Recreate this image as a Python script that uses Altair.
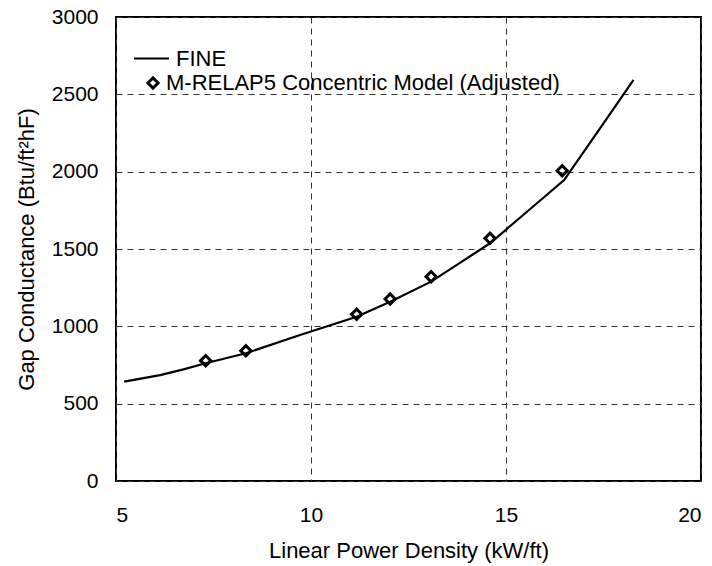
import altair as alt
import pandas as pd

# FINE curve
fine_x = [5.21, 6.13, 6.73, 7.30, 8.33, 9.72, 11.17, 12.03, 13.08, 14.59, 15.44, 16.49, 17.38, 18.27]
fine_y = [642, 685, 722, 761, 826, 944, 1062, 1159, 1289, 1537, 1720, 1946, 2269, 2593]

# M-RELAP5 concentric model (adjusted) points
model_x = [7.30, 8.33, 11.17, 12.03, 13.08, 14.59, 16.44]
model_y = [778, 842, 1078, 1177, 1321, 1569, 2006]

line_name = "FINE"
point_name = "M-RELAP5 Concentric Model (Adjusted)"

x_ticks = [5, 10, 15, 20]
y_ticks = [0, 500, 1000, 1500, 2000, 2500, 3000]

FONT = "Liberation Sans"

fine_df = pd.DataFrame({"x": fine_x, "y": fine_y, "series": line_name})
model_df = pd.DataFrame({"x": model_x, "y": model_y, "series": point_name})

x_enc = alt.X(
    "x:Q",
    scale=alt.Scale(domain=[5, 20], nice=False, zero=False),
    axis=alt.Axis(values=x_ticks, format="d", title="Linear Power Density (kW/ft)",
                  labelPadding=23, titlePadding=15),
)
y_enc = alt.Y(
    "y:Q",
    scale=alt.Scale(domain=[0, 3000], nice=False),
    axis=alt.Axis(values=y_ticks, format="d", title="Gap Conductance (Btu/ft\u00b2hF)",
                  labelPadding=18, titlePadding=13),
)

line = alt.Chart(fine_df).mark_line(strokeWidth=2.2, color="black").encode(
    x=x_enc,
    y=y_enc,
    order="x:Q",
    color=alt.Color(
        "series:N",
        scale=alt.Scale(domain=[line_name], range=["black"]),
        legend=alt.Legend(
            title=None, orient="none", legendX=17, legendY=23,
            symbolType="stroke", symbolSize=1225, symbolStrokeWidth=2,
            symbolStrokeColor="black", labelOffset=6,
        ),
    ),
)

points = alt.Chart(model_df).mark_point(
    shape="diamond", filled=False, color="black", strokeWidth=3, size=105, opacity=1
).encode(
    x=x_enc,
    y=y_enc,
    shape=alt.Shape(
        "series:N",
        scale=alt.Scale(domain=[point_name], range=["diamond"]),
        legend=alt.Legend(
            title=None, orient="none", legendX=26, legendY=55,
            symbolSize=105, symbolStrokeWidth=3, symbolStrokeColor="black",
            symbolFillColor="white", labelOffset=2,
        ),
    ),
)

chart = (
    alt.layer(line, points)
    .resolve_scale(color="independent", shape="independent")
    .properties(
        width=585,
        height=464,
        autosize=alt.AutoSizeParams(type="none"),
        padding={"left": 116, "top": 17, "right": 11, "bottom": 85},
        background="white",
    )
    .configure_view(stroke="black", strokeWidth=2)
    .configure_axis(
        labelFont=FONT, titleFont=FONT, labelFontSize=21, titleFontSize=22,
        titleFontWeight="normal", labelColor="black", titleColor="black",
        grid=True, gridColor="#333333", gridDash=[6, 5], gridWidth=1,
        ticks=False, domain=False,
    )
    .configure_legend(
        labelFont=FONT, labelFontSize=22, labelColor="black", padding=0,
        labelLimit=0,
    )
)

chart.save("out.html", embed_options={"renderer": "svg", "actions": False})
